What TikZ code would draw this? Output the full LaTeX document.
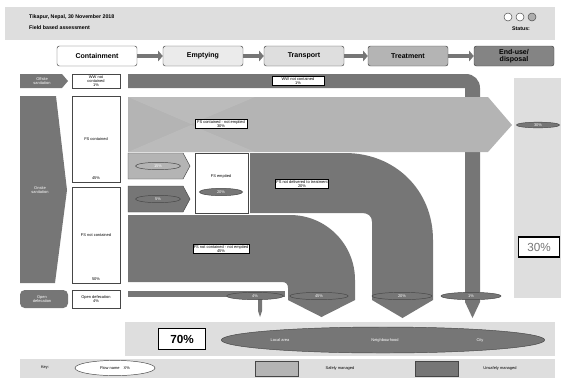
\documentclass[tikz,border=0pt]{standalone}
\usepackage{fontspec}
\setmainfont{Liberation Sans}
\usetikzlibrary{arrows.meta, positioning, shapes.geometric, calc}
\definecolor{sdark}{RGB}{118,118,118}
\definecolor{slight}{RGB}{180,180,180}
\definecolor{sband}{RGB}{222,222,222}
\definecolor{sline}{RGB}{70,70,70}
\newcommand{\sfdtiny}{\fontsize{3.4}{3.7}\selectfont}

\begin{document}
\begin{tikzpicture}[x=0.03cm,y=-0.03cm,
  stage/.style={draw=sline,rounded corners=2pt,minimum width=2.4cm,minimum height=0.6cm,
    font=\fontsize{6}{6}\selectfont\bfseries,align=center,inner sep=0pt},
  stagearrow/.style={sdark,line width=3.5pt,-{Triangle[length=4pt,width=9pt]}},
  lbl/.style={draw=black,fill=white,font=\sfdtiny,align=center,inner sep=0.8pt,minimum width=1.55cm},
  pct/.style={ellipse,draw=sline,fill=sdark,font=\sfdtiny,text=white,inner sep=0pt,
    minimum height=0.22cm},
  colbox/.style={draw=sline,fill=white,font=\sfdtiny,align=center},
  wtxt/.style={font=\sfdtiny,text=white,align=center}]
  \useasboundingbox (0,0) rectangle (566,379);

  % header
  \fill[sband] (5,7) rectangle (555,40);
  \node[anchor=west,font=\fontsize{4.5}{5}\selectfont\bfseries] (place) at (25,17) {Tikapur, Nepal, 30 November 2018};
  \node[anchor=west,font=\fontsize{4.5}{5}\selectfont\bfseries] (assess) at (25,28) {Field based assessment};
  \foreach \cx/\shade in {508/white,520/white,532/sdark!60}
    \draw[sline,fill=\shade] (\cx,17) circle (0.12cm);
  \node[font=\fontsize{4.5}{5}\selectfont\bfseries] (status) at (521,29) {Status:};

  % stages
  \node[stage,fill=white] (cont) at (97,56) {Containment};
  \node[stage,fill=sband!60] (empt) at (203,56) {Emptying};
  \node[stage,fill=sband] (trans) at (304,56) {Transport};
  \node[stage,fill=slight] (treat) at (408,56) {Treatment};
  \node[stage,fill=sdark!90] (enduse) at (514,56) {End-use/\\disposal};
  \foreach \a/\b in {cont/empt,empt/trans,trans/treat,treat/enduse}
    \draw[stagearrow] (\a) -- (\b);

  % sanitation arrows
  \fill[sdark] (20,74) -- (62,74) -- (68,81) -- (62,88) -- (20,88) -- cycle;
  \node[wtxt] (offsite) at (42,81) {Offsite\\sanitation};
  \fill[sdark] (20,96) -- (56,96) -- (67,190) -- (55,283) -- (20,283) -- cycle;
  \node[wtxt] (onsite) at (40,190) {Onsite\\sanitation};
  \fill[sdark,rounded corners=4pt] (20,290) -- (68,290) -- (68,308) -- (20,308) -- cycle;
  \node[wtxt] (od) at (42,299) {Open\\defecation};

  % containment column
  \draw[colbox] (72,74) rectangle (120,88);
  \node[font=\sfdtiny,align=center] (wwnc) at (96,81) {WW not\\contained\\1\%};
  \draw[colbox] (72,96) rectangle (120,182);
  \node[font=\sfdtiny] (fsc) at (96,139) {FS contained};
  \node[font=\sfdtiny] (fscp) at (96,178) {45\%};
  \draw[colbox] (72,187) rectangle (120,283);
  \node[font=\sfdtiny] (fsnc) at (96,235) {FS not contained};
  \node[font=\sfdtiny] (fsncp) at (96,279) {50\%};
  \draw[colbox] (72,290) rectangle (120,308);
  \node[font=\sfdtiny,align=center] (odb) at (96,299) {Open defecation\\4\%};

  % flows
  \fill[sdark] (128,74) -- (466,74) .. controls (474,74) and (480,80) .. (480,88)
    -- (480,302) -- (472.5,318) -- (465,302) -- (465,88) -- (128,88) -- cycle;
  \fill[slight] (128,97) -- (488,97) -- (512,125) -- (488,152) -- (128,152) -- cycle;
  \fill[white,opacity=0.1] (128,97) -- (255,97) -- (191,124) -- cycle;
  \fill[white,opacity=0.1] (128,152) -- (255,152) -- (191,125) -- cycle;
  \fill[slight,draw=sline] (128,153) -- (183,153) -- (190,166) -- (183,179) -- (128,179) -- cycle;
  \fill[sdark,draw=sline] (128,186) -- (183,186) -- (190,199) -- (183,212) -- (128,212) -- cycle;
  \fill[sdark] (250,153) -- (345,153) .. controls (395,153) and (433,190) .. (433,240)
    -- (433,300) -- (402.5,318) -- (372,300) -- (372,222) .. controls (372,216) and (368,213) .. (362,213)
    -- (250,213) -- cycle;
  \fill[sdark] (128,215) -- (290,215) .. controls (326,215) and (355,244) .. (355,280)
    -- (355,300) -- (321.5,317) -- (288,300) -- (288,288) .. controls (288,284) and (286,282) .. (282,282)
    -- (128,282) -- cycle;
  \fill[sdark] (128,291) rectangle (285,297);
  \fill[sdark] (258,296) -- (262,296) -- (262,311) -- (260,317) -- (258,311) -- cycle;

  % emptied box
  \draw[colbox] (195,153) rectangle (248,213);
  \node[font=\sfdtiny] (fse) at (221,176) {FS emptied};
  \node[pct,minimum width=1.3cm] (fsep) at (221,192) {20\%};

  % flow labels
  \node[lbl] (wwlbl) at (298,81) {WW not contained\\1\%};
  \node[lbl] (cnelbl) at (221,124) {FS contained - not emptied\\30\%};
  \node[lbl] (ndlbl) at (302,184) {FS not delivered to treatment\\20\%};
  \node[lbl] (ncnelbl) at (221,249) {FS not contained - not emptied\\45\%};
  \node[pct,minimum width=1.35cm,fill=slight] (cep) at (158,166) {15\%};
  \node[pct,minimum width=1.35cm] (ncep) at (158,199) {5\%};

  % end-use panel
  \fill[sband] (514,78) rectangle (561,298);
  \node[pct,minimum width=1.3cm,minimum height=0.17cm] (safep) at (538,125) {30\%};
  \node[draw=black,line width=1pt,fill=white,minimum width=1.25cm,minimum height=0.6cm,
    font=\fontsize{10}{10}\selectfont,text=sdark] (safe) at (539,247) {30\%};

  % outcome ellipses
  \foreach \n/\cx/\w/\v in {odp/255/1.7/4,nep/319/1.75/45,ndp/402/1.8/20,wwp/471/1.8/1}
    \node[pct,minimum width=\w cm] (\n) at (\cx,296) {\v\%};

  % bottom band
  \fill[sband] (125,322) rectangle (555,356);
  \node[draw=black,line width=1.2pt,fill=white,minimum width=1.4cm,minimum height=0.62cm,
    font=\fontsize{10}{10}\selectfont\bfseries] (unsafe) at (182,339) {70\%};
  \node[ellipse,draw=sline,fill=sdark,minimum width=9.7cm,minimum height=0.78cm] (area) at (383,340) {};
  \foreach \n/\cx/\t in {loc/280/Local area,nbh/385/Neighbourhood,city/480/City}
    \node[wtxt] (\n) at (\cx,340) {\t};

  % key
  \fill[sband] (20,359) rectangle (555,378);
  \node[font=\sfdtiny] (key) at (45,368) {Key:};
  \node[ellipse,draw=sline,fill=white,minimum width=2.4cm,minimum height=0.3cm,font=\sfdtiny] (keyell) at (115,368) {Flow name\quad X\%};
  \fill[slight,draw=sline] (255,361) rectangle (298,376);
  \node[font=\sfdtiny] (safekey) at (340,368) {Safely managed};
  \fill[sdark,draw=sline] (415,361) rectangle (458,376);
  \node[font=\sfdtiny] (unsafekey) at (500,368) {Unsafely managed};
\end{tikzpicture}
\end{document}
